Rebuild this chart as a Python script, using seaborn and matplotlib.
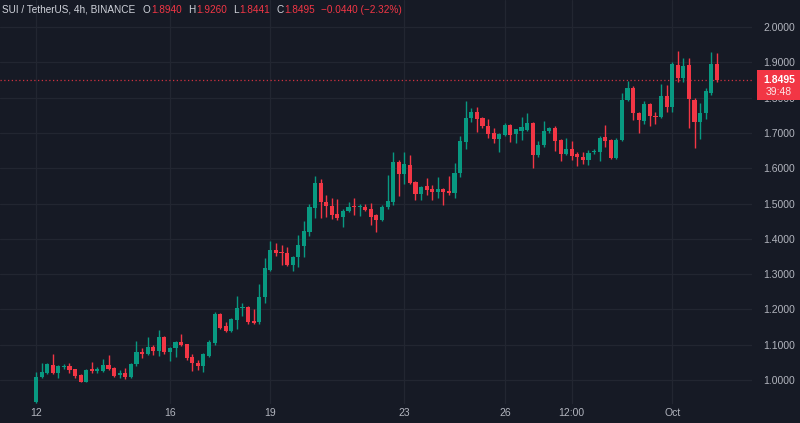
import matplotlib
matplotlib.use("Agg")
import matplotlib.pyplot as plt
from matplotlib.patches import Rectangle
import seaborn as sns
import numpy as np

# ---- data (4h candles, SUI/USDT) ----
opens = [0.938, 1.009, 1.019, 1.043, 1.021, 1.036, 1.040, 1.030, 1.014, 0.995,
         1.030, 1.026, 1.026, 1.042, 1.035, 1.014, 1.019, 1.008, 1.044, 1.080,
         1.073, 1.094, 1.082, 1.123, 1.078, 1.090, 1.107, 1.101, 1.066, 1.049,
         1.040, 1.069, 1.104, 1.186, 1.154, 1.140, 1.170, 1.205, 1.208, 1.167,
         1.163, 1.234, 1.312, 1.368, 1.363, 1.361, 1.326, 1.348, 1.380, 1.418,
         1.488, 1.557, 1.503, 1.494, 1.470, 1.461, 1.480, 1.492, 1.489, 1.491,
         1.484, 1.467, 1.453, 1.489, 1.505, 1.618, 1.583, 1.609, 1.562, 1.527,
         1.549, 1.540, 1.533, 1.541, 1.535, 1.530, 1.587, 1.675, 1.741, 1.760,
         1.741, 1.720, 1.701, 1.682, 1.694, 1.722, 1.697, 1.705, 1.708, 1.729,
         1.637, 1.666, 1.706, 1.715, 1.680, 1.640, 1.654, 1.641, 1.632, 1.624,
         1.645, 1.645, 1.687, 1.680, 1.630, 1.680, 1.793, 1.828, 1.757, 1.735,
         1.782, 1.748, 1.746, 1.805, 1.774, 1.892, 1.855, 1.892, 1.793, 1.730,
         1.755, 1.812, 1.894]
highs = [1.023, 1.049, 1.048, 1.073, 1.043, 1.046, 1.049, 1.032, 1.016, 1.031,
         1.050, 1.036, 1.060, 1.071, 1.037, 1.028, 1.034, 1.047, 1.110, 1.090,
         1.123, 1.098, 1.142, 1.125, 1.093, 1.110, 1.130, 1.103, 1.075, 1.057,
         1.076, 1.113, 1.192, 1.190, 1.165, 1.175, 1.238, 1.217, 1.210, 1.201,
         1.271, 1.345, 1.395, 1.389, 1.383, 1.376, 1.350, 1.411, 1.450, 1.500,
         1.578, 1.568, 1.524, 1.515, 1.512, 1.485, 1.505, 1.516, 1.500, 1.500,
         1.501, 1.470, 1.495, 1.581, 1.647, 1.622, 1.647, 1.637, 1.565, 1.550,
         1.571, 1.552, 1.576, 1.545, 1.578, 1.615, 1.690, 1.790, 1.770, 1.774,
         1.745, 1.740, 1.715, 1.700, 1.728, 1.726, 1.712, 1.746, 1.757, 1.731,
         1.676, 1.734, 1.718, 1.720, 1.684, 1.685, 1.677, 1.646, 1.647, 1.652,
         1.654, 1.690, 1.722, 1.683, 1.685, 1.812, 1.847, 1.832, 1.760, 1.790,
         1.785, 1.760, 1.838, 1.837, 1.902, 1.932, 1.911, 1.911, 1.800, 1.784,
         1.828, 1.930, 1.926]
lows = [0.935, 1.005, 1.016, 1.018, 1.006, 1.030, 1.019, 1.006, 0.993, 0.995,
        1.019, 1.020, 1.024, 1.028, 1.008, 1.005, 1.003, 1.005, 1.040, 1.063,
        1.070, 1.070, 1.069, 1.075, 1.054, 1.066, 1.095, 1.058, 1.025, 1.028,
        1.022, 1.066, 1.100, 1.145, 1.137, 1.137, 1.144, 1.181, 1.158, 1.160,
        1.160, 1.217, 1.310, 1.350, 1.326, 1.323, 1.309, 1.320, 1.349, 1.408,
        1.460, 1.460, 1.463, 1.456, 1.453, 1.433, 1.477, 1.467, 1.466, 1.478,
        1.439, 1.420, 1.450, 1.485, 1.496, 1.521, 1.554, 1.555, 1.510, 1.510,
        1.524, 1.510, 1.515, 1.496, 1.525, 1.515, 1.576, 1.654, 1.730, 1.703,
        1.715, 1.685, 1.670, 1.647, 1.690, 1.675, 1.670, 1.680, 1.705, 1.601,
        1.631, 1.660, 1.700, 1.649, 1.619, 1.636, 1.623, 1.607, 1.612, 1.610,
        1.640, 1.619, 1.660, 1.627, 1.625, 1.677, 1.790, 1.737, 1.701, 1.725,
        1.720, 1.724, 1.742, 1.760, 1.760, 1.845, 1.845, 1.713, 1.656, 1.682,
        1.739, 1.808, 1.8441]
closes = [1.009, 1.022, 1.044, 1.021, 1.040, 1.038, 1.028, 1.011, 0.995, 1.028,
          1.026, 1.030, 1.042, 1.030, 1.011, 1.019, 1.008, 1.044, 1.080, 1.073,
          1.094, 1.083, 1.123, 1.078, 1.090, 1.107, 1.099, 1.061, 1.047, 1.040,
          1.073, 1.109, 1.186, 1.148, 1.140, 1.172, 1.205, 1.208, 1.163, 1.162,
          1.236, 1.316, 1.368, 1.359, 1.360, 1.326, 1.348, 1.383, 1.422, 1.491,
          1.557, 1.503, 1.493, 1.467, 1.460, 1.480, 1.489, 1.489, 1.492, 1.482,
          1.463, 1.453, 1.491, 1.507, 1.618, 1.583, 1.612, 1.559, 1.527, 1.548,
          1.538, 1.533, 1.541, 1.533, 1.530, 1.587, 1.677, 1.741, 1.760, 1.738,
          1.720, 1.697, 1.682, 1.696, 1.722, 1.694, 1.710, 1.716, 1.729, 1.637,
          1.666, 1.706, 1.715, 1.678, 1.640, 1.654, 1.635, 1.632, 1.622, 1.644,
          1.648, 1.685, 1.678, 1.630, 1.680, 1.793, 1.828, 1.757, 1.737, 1.782,
          1.748, 1.744, 1.805, 1.774, 1.894, 1.855, 1.889, 1.795, 1.732, 1.757,
          1.819, 1.894, 1.8495]

x_tick_pos = [0, 24, 42, 66, 84, 96, 114]
x_tick_labels = ["12", "16", "19", "23", "26", "12:00", "Oct"]
y_ticks = [1.0, 1.1, 1.2, 1.3, 1.4, 1.5, 1.6, 1.7, 1.8, 1.9, 2.0]
last_price = 1.8495
countdown = "39:48"
title = "SUI / TetherUS, 4h, BINANCE"
ohlc_labels = ["O", "H", "L", "C"]
ohlc_values = ["1.8940", "1.9260", "1.8441", "1.8495"]
change_text = "\u22120.0440 (\u22122.32%)"

# ---- style ----
BG = "#161A25"
GRID = "#222631"
TXT = "#B2B5BE"
UP = "#089981"
DOWN = "#F23645"

sns.set_theme(style="dark", rc={"axes.facecolor": BG, "figure.facecolor": BG})
plt.rcParams["font.family"] = ["Liberation Sans", "DejaVu Sans"]

W, H = 800, 423
fig = plt.figure(figsize=(W / 100, H / 100), dpi=100)
ax_l, ax_r, ax_top, ax_bot = 0, 752, 0, 404
ax = fig.add_axes([ax_l / W, 1 - ax_bot / H, (ax_r - ax_l) / W, (ax_bot - ax_top) / H])
ax.set_facecolor(BG)

o = np.array(opens); h = np.array(highs); l = np.array(lows); c = np.array(closes)
idx = np.arange(len(o))
up = c >= o
colors = np.where(up, UP, DOWN)

ax.vlines(idx, l, h, colors=colors, linewidth=1.0, zorder=3)
body_bottom = np.minimum(o, c)
body_h = np.maximum(np.abs(c - o), 0.0025)
ax.bar(idx, body_h, bottom=body_bottom, width=0.74, color=colors, edgecolor=colors,
       linewidth=0.0, zorder=4)

ax.set_xlim(-6.45, 128.3)
ax.set_ylim(0.932, 2.0765)

ax.axhline(last_price, color=DOWN, linestyle=(0, (1, 2)), linewidth=0.9, alpha=0.85, zorder=2)

ax.set_yticks(y_ticks)
ax.set_yticklabels([f"{v:.4f}" for v in y_ticks])
ax.yaxis.tick_right()
ax.set_xticks(x_tick_pos)
ax.set_xticklabels(x_tick_labels)
ax.tick_params(axis="y", length=0, pad=8, labelsize=7.5, labelcolor=TXT)
ax.tick_params(axis="x", length=0, pad=3, labelsize=7.5, labelcolor=TXT)
ax.grid(True, color=GRID, linewidth=0.9)
ax.set_axisbelow(True)
for s in ax.spines.values():
    s.set_visible(False)

# price label box (covers the 1.8000 label as in the reference)
fig.patches.append(Rectangle((757 / W, 1 - 100 / H), 43 / W, 30 / H,
                             transform=fig.transFigure, facecolor=DOWN,
                             edgecolor="none", zorder=10))
fig.text(779 / W, 1 - 80 / H, f"{last_price:.4f}", color="white", fontsize=7.5,
         fontweight="bold", ha="center", va="center", zorder=11)
fig.text(779 / W, 1 - 92 / H, countdown, color="#FBE3E5", fontsize=7.5,
         ha="center", va="center", zorder=11)

# header, laid out sequentially
renderer = fig.canvas.get_renderer()
ty = 1 - 10 / H
fs = 7.2
cur = 2.0


def put(txt, color, gap):
    global cur
    t = fig.text(cur / W, ty, txt, color=color, fontsize=fs, ha="left", va="center")
    bb = t.get_window_extent(renderer=renderer)
    cur = bb.x1 + gap
    return t


put(title, "#D1D4DC", 7)
for lab, val in zip(ohlc_labels, ohlc_values):
    put(lab, "#D1D4DC", 1)
    put(val, DOWN, 6)
put(change_text, DOWN, 0)

fig.savefig("out.png", dpi=100, facecolor=BG)
